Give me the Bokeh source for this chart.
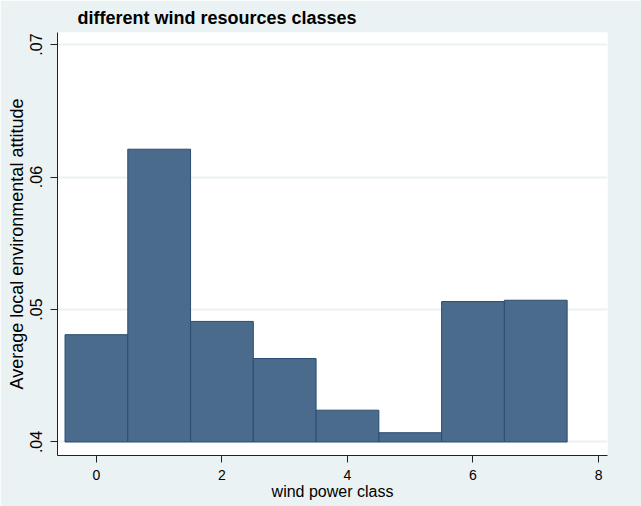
from bokeh.plotting import figure
from bokeh.models import FixedTicker, CustomJSTickFormatter, Range1d
from bokeh.embed import file_html
from bokeh.resources import INLINE

# Data
wind_class = [0, 1, 2, 3, 4, 5, 6, 7]
attitude = [0.0481, 0.0621, 0.0491, 0.0463, 0.0424, 0.0407, 0.0506, 0.0507]
x_ticks = [0, 2, 4, 6, 8]
y_ticks = [0.04, 0.05, 0.06, 0.07]
title_text = "different wind resources classes"
x_label = "wind power class"
y_label = "Average local environmental attitude"

BG = "#eaf2f3"
FONT = "Liberation Sans"

p = figure(width=641, height=506, output_backend="svg", toolbar_location=None,
           x_range=Range1d(-0.62, 8.143), y_range=Range1d(0.03898, 0.07091),
           background_fill_color="white", border_fill_color=BG,
           min_border_left=57, min_border_right=34, min_border_top=32, min_border_bottom=51)
p.outline_line_color = None

p.title.text = title_text
p.title.align = "left"
p.title.offset = 20
p.title.text_font = FONT
p.title.text_font_style = "bold"
p.title.text_font_size = "18px"
p.title.text_color = "#000000"
p.title.standoff = 10

p.vbar(x=wind_class, top=attitude, bottom=0.04, width=1.0,
       fill_color="#4a6b8c", line_color="#2a4d73", line_width=1)

# grid
p.xgrid.grid_line_color = None
p.ygrid.ticker = FixedTicker(ticks=y_ticks)
p.ygrid.grid_line_color = BG
p.ygrid.grid_line_width = 2
p.ygrid.level = "underlay"

fmt = CustomJSTickFormatter(code="return tick.toFixed(2).replace(/^0/, '');")

for ax in (p.xaxis[0], p.yaxis[0]):
    ax.axis_line_color = "#222222"
    ax.axis_line_width = 1
    ax.major_tick_line_color = "#222222"
    ax.major_tick_out = 7
    ax.major_tick_in = 0
    ax.minor_tick_line_color = None
    ax.major_label_text_font = FONT
    ax.axis_label_text_font = FONT
    ax.axis_label_text_font_style = "normal"
    ax.major_label_text_color = "#000000"
    ax.axis_label_text_color = "#000000"

p.xaxis.ticker = FixedTicker(ticks=x_ticks)
p.xaxis.major_label_text_font_size = "14px"
p.xaxis.major_label_standoff = 7
p.xaxis.axis_label = x_label
p.xaxis.axis_label_text_font_size = "16px"
p.xaxis.axis_label_standoff = 0

p.yaxis.ticker = FixedTicker(ticks=y_ticks)
p.yaxis.formatter = fmt
p.yaxis.major_label_orientation = "vertical"
p.yaxis.major_label_text_font_size = "16px"
p.yaxis.major_label_standoff = 8
p.yaxis.axis_label = y_label
p.yaxis.axis_label_text_font_size = "18px"
p.yaxis.axis_label_standoff = 1

open("out.html", "w").write(file_html(p, INLINE))
